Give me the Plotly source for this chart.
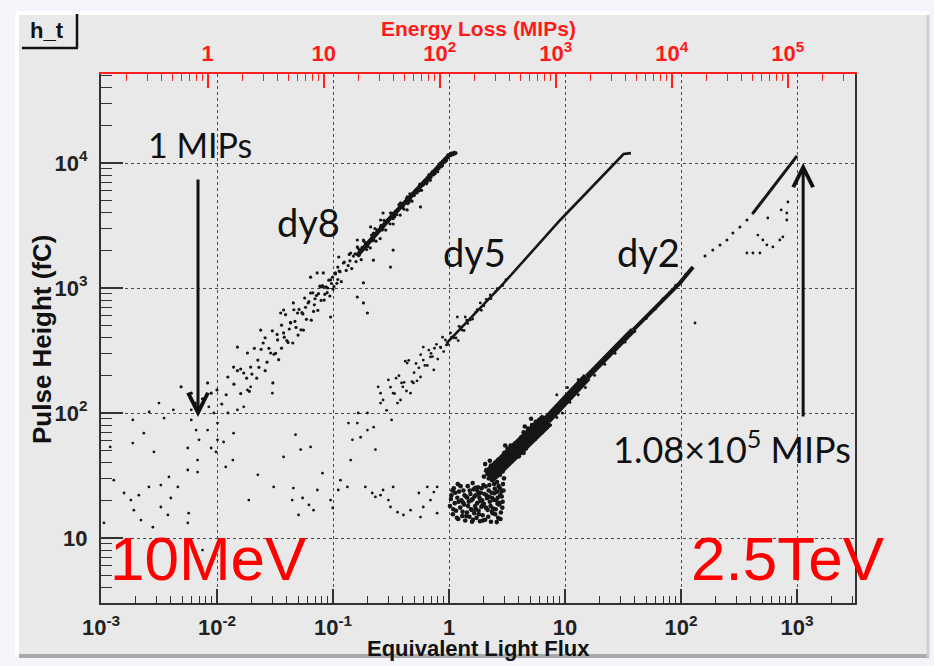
import math
import plotly.graph_objects as go

# ---------------- data ----------------
# Equivalent light flux (x) and pulse height in fC (y)
noise_flux = [0.00158, 0.00188, 0.00234, 0.00188, 0.00286, 0.00316, 0.00259, 0.00212, 0.00192, 0.00181,
              0.00221, 0.0028, 0.00328, 0.00377, 0.004, 0.0057, 0.0056, 0.00385, 0.0056, 0.0068,
              0.00328, 0.0046, 0.0068, 0.0056, 0.007, 0.0083, 0.0066, 0.006, 0.0098, 0.0101,
              0.0089, 0.0114, 0.0119, 0.0137, 0.0139, 0.0101, 0.0094, 0.0124, 0.015, 0.0085,
              0.006, 0.0042, 0.0035, 0.0026, 0.017, 0.0183, 0.0195, 0.03, 0.0188, 0.0308,
              0.0375, 0.0475, 0.0526, 0.0641, 0.0225, 0.0455, 0.0445, 0.0547, 0.062, 0.0505,
              0.0733, 0.068, 0.0812, 0.0953, 0.0995, 0.116, 0.111, 0.133, 0.136, 0.162,
              0.147, 0.173, 0.165, 0.198, 0.224, 0.232, 0.198, 0.142, 0.19, 0.218,
              0.232, 0.27, 0.257, 0.33, 0.3, 0.313, 0.36, 0.405, 0.466, 0.55,
              0.568, 0.6, 0.692, 0.79, 0.65, 0.79, 0.74, 0.0012, 0.00129, 0.00106,
              0.0075, 0.016]
noise_ph = [22.9, 88, 69, 57.5, 48.8, 120, 25.6, 22, 16.7, 20.1,
            13.9, 12.2, 17.7, 15.3, 20.9, 15.8, 13.2, 30.8, 35, 33.7,
            26.5, 25.6, 42, 52.5, 61, 73, 73, 88, 48.8, 61,
            52.5, 58.6, 37, 42, 69, 83, 100, 100, 106, 112,
            106, 106, 91, 102, 112, 153, 162, 144, 20.1, 25.6,
            44.5, 67, 51, 53.5, 32, 25.1, 20.1, 20.9, 18.4, 15.3,
            24.2, 16.7, 33, 20.1, 17.4, 29, 24.2, 25.6, 83, 83,
            61, 64, 100, 100, 77, 51, 73, 42, 25.6, 22.9,
            21.3, 24.2, 22, 25.6, 20.1, 17.7, 16.1, 15.3, 16.7, 22.9,
            14.7, 17.7, 20.1, 15.8, 25.6, 25.6, 23.3, 53.5, 29, 13.2,
            8, 6.6]

dy8_flux = [0.0049, 0.006, 0.0083, 0.0089, 0.01, 0.0124, 0.0139, 0.015, 0.0183, 0.0195,
            0.0225, 0.0238, 0.025, 0.029, 0.0333, 0.0303, 0.0375, 0.0432, 0.0354, 0.0495,
            0.0557, 0.061, 0.0641, 0.073, 0.0825, 0.0953, 0.105, 0.123, 0.11, 0.142,
            0.162, 0.183, 0.223, 0.211, 0.257, 0.313, 0.382, 0.436, 0.494, 0.6,
            0.692, 0.843, 0.98,
            0.223, 0.313, 0.33, 0.183, 0.162, 0.183, 0.198, 0.0953, 0.436, 0.568,
            0.0375, 0.0455, 0.0641, 0.0825, 0.078, 0.112, 0.162, 0.257, 0.27, 0.36,
            0.466, 0.568, 0.79, 0.65,
            0.14, 0.15, 0.17, 0.19, 0.2, 0.24, 0.28, 0.3, 0.34, 0.35,
            0.4, 0.42, 0.45, 0.5, 0.52, 0.55, 0.62, 0.7, 0.75, 0.82,
            0.88, 0.92, 1.05, 1.1, 1.15,
            0.02, 0.027, 0.032, 0.04, 0.042, 0.047, 0.05, 0.055, 0.058, 0.068,
            0.07, 0.075, 0.085, 0.09, 0.1, 0.018, 0.014, 0.012, 0.0065, 0.0075,
            0.011, 0.016, 0.022, 0.026, 0.036,
            0.105, 0.108, 0.115, 0.118, 0.125, 0.13, 0.135, 0.138, 0.145, 0.155,
            0.158, 0.165, 0.168, 0.175, 0.178, 0.185, 0.195, 0.205, 0.21, 0.215,
            0.225, 0.23, 0.235, 0.245, 0.255, 0.26, 0.265, 0.275, 0.285, 0.29,
            0.31, 0.32, 0.33, 0.345, 0.355, 0.37, 0.38, 0.39, 0.41, 0.43,
            0.44, 0.46, 0.48, 0.51, 0.53, 0.56, 0.58, 0.61, 0.64, 0.67,
            0.69, 0.72, 0.74, 0.77, 0.8, 0.84, 0.86, 0.9, 0.94, 0.97,
            0.015, 0.016, 0.017, 0.019, 0.021, 0.023, 0.024, 0.026, 0.028, 0.03,
            0.031, 0.033, 0.034, 0.036, 0.038, 0.039, 0.041, 0.043, 0.045, 0.046,
            0.048, 0.051, 0.053, 0.054, 0.057, 0.059, 0.062, 0.065, 0.067, 0.069,
            0.072, 0.074, 0.077, 0.079, 0.081, 0.084, 0.087, 0.089, 0.092, 0.094,
            0.097, 0.099, 0.102, 0.11, 0.113,
            0.2, 0.22, 0.24, 0.27, 0.3, 0.33, 0.36, 0.4, 0.42, 0.45,
            0.47, 0.5, 0.52, 0.55, 0.57, 0.6, 0.62, 0.65, 0.68, 0.7,
            0.73, 0.76, 0.78, 0.82, 0.85, 0.88, 0.92, 0.95, 0.99, 1.02]
dy8_ph = [162, 144, 174, 144, 153, 194, 233, 337, 302, 233,
          265, 461, 363, 302, 384, 174, 437, 525, 631, 631,
          461, 759, 912, 1320, 1020, 1160, 1320, 1585, 1470, 1905,
          2130, 2420, 2750, 3080, 3500, 3980, 4790, 5350, 5750, 6920,
          7730, 10000, 11600,
          1670, 1470, 2010, 1100, 847, 759, 631, 586, 4210, 4450,
          667, 759, 1220, 1320, 1020, 1770, 2420, 3080, 3980, 4210,
          5060, 6080, 8790, 7310,
          1650, 1800, 2000, 2300, 2150, 2900, 3300, 3500, 3700, 4100,
          4500, 4900, 4800, 5500, 6100, 6300, 7100, 8200, 8400, 9300,
          10300, 10800, 12000, 12100, 12050,
          205, 255, 300, 380, 470, 540, 420, 620, 700, 650,
          820, 900, 890, 1000, 980, 190, 170, 140, 120, 130,
          118, 225, 190, 400, 330,
          1294, 1089, 1352, 1123, 1610, 1383, 1512, 1855, 1429, 1875,
          1628, 2070, 1825, 1686, 2113, 2362, 2031, 2342, 2093, 2649,
          2419, 2988, 2369, 2854, 2485, 3174, 2909, 3480, 2905, 3345,
          3264, 3978, 3252, 4096, 3857, 4641, 3830, 4586, 4271, 5201,
          4731, 5667, 4946, 5940, 5758, 6774, 6041, 7174, 6810, 8029,
          7264, 8548, 8039, 8969, 8512, 9972, 9343, 10382, 10317, 11081,
          218, 143, 209, 149, 329, 232, 323, 218, 329, 454,
          295, 425, 267, 504, 404, 612, 367, 530, 363, 670,
          484, 674, 463, 635, 830, 562, 778, 553, 915, 734,
          871, 663, 1035, 796, 1043, 800, 1023, 917, 1154, 863,
          1086, 1220, 1028, 1170, 1367,
          2307, 2390, 2742, 2964, 3494, 3585, 4153, 4390, 4845, 4889,
          5369, 5488, 5999, 5975, 6512, 6653, 7152, 7062, 7768, 7683,
          8421, 8257, 8911, 9000, 9806, 9560, 10510, 10534, 11310, 11800]
dy8_core_flux = [0.16, 0.3, 0.6, 1.0, 1.15]
dy8_core_ph = [1800, 3500, 6900, 11500, 12100]

dy5_flux = [1.18, 0.6, 0.436, 0.313, 0.257, 0.494, 0.568, 0.692, 0.74, 0.843,
            1.03, 1.25, 1.53, 0.466, 0.4, 0.6, 0.245, 0.27, 0.33, 0.39,
            0.43, 0.382, 0.32, 0.257, 1.86, 2.27, 0.93, 1.38,
            0.5, 0.55, 0.65, 0.7, 0.8, 0.9, 1.1, 1.3, 1.45, 1.7,
            2.0, 2.5, 0.36, 0.29, 0.35, 0.75, 1.2, 0.95,
            0.3, 0.34, 0.37, 0.41, 0.45, 0.48, 0.52, 0.57, 0.62, 0.67,
            0.72, 0.78, 0.85, 0.88, 0.98, 1.05, 1.15, 1.22, 1.35, 1.42,
            1.6, 1.75, 1.9, 2.1, 2.3, 2.6, 2.9, 3.1, 0.42, 0.53]
dy5_ph = [586, 337, 251, 161, 144, 174, 194, 281, 221, 337,
          437, 488, 555, 144, 162, 265, 162, 127, 144, 174,
          150, 127, 88, 120, 759, 879, 384, 586,
          210, 230, 240, 300, 270, 310, 400, 460, 520, 640,
          720, 930, 120, 105, 190, 330, 380, 350,
          184, 143, 199, 176, 264, 178, 249, 293, 240, 319,
          283, 354, 333, 404, 354, 405, 398, 494, 457, 554,
          565, 670, 664, 811, 821, 986, 1046, 1164, 260, 181]
dy5_core_flux = [0.95, 2.77, 9.1, 32, 37]
dy5_core_ph = [360, 1020, 3500, 11800, 12000]

dy2_base_flux = [1.02, 1.05, 1.08, 1.1, 1.12, 1.15, 1.18, 1.2, 1.22, 1.25, 1.28, 1.3, 1.33, 1.35, 1.38,
                 1.4, 1.43, 1.45, 1.48, 1.5, 1.53, 1.55, 1.58, 1.6, 1.63, 1.65, 1.68, 1.7, 1.73, 1.75,
                 1.78, 1.8, 1.83, 1.85, 1.88, 1.9, 1.93, 1.95, 1.98, 2.0, 2.05, 2.1, 2.15, 2.2, 2.25,
                 2.3, 2.35, 2.4, 2.45, 2.5, 2.55, 2.6, 2.65, 2.7, 2.75, 2.8, 2.85,
                 1.04, 1.09, 1.13, 1.17, 1.21, 1.26, 1.31, 1.36, 1.41, 1.46, 1.51, 1.56, 1.61, 1.66,
                 1.71, 1.76, 1.81, 1.86, 1.91, 1.96, 2.02, 2.08, 2.13, 2.18, 2.23, 2.28, 2.33, 2.38,
                 2.43, 2.48, 2.53, 2.58, 2.63, 2.68, 2.73, 2.78, 2.83, 2.88,
                 1.07, 1.19, 1.32, 1.44, 1.57, 1.69, 1.82, 1.94, 2.07, 2.21, 2.34, 2.47, 2.62, 2.76,
                 2.9, 2.92, 2.95, 2.98, 2.6, 2.35, 1.6]
dy2_base_ph = [18, 22, 15.5, 25, 19, 16.5, 21, 14.2, 23.5, 17.5, 20, 15, 24, 18.5, 13.8,
               21.5, 16, 26, 19.5, 14.8, 22.5, 17, 13.5, 20.5, 24.5, 15.8, 18, 22, 14.5, 19,
               25.5, 16.5, 21, 13.6, 23, 17.8, 20, 15.2, 26.5, 18.8, 14, 22, 16.8, 24, 19.5,
               13.5, 21, 17.2, 27, 15.5, 20, 23.5, 14.5, 18.5, 25, 16, 21.5,
               20.5, 17, 23, 14.5, 19.5, 26, 16.2, 22, 15, 18, 24, 20, 14, 21.5,
               17, 23.8, 15.5, 19.8, 25, 13.8, 22.5, 17.5, 20.8, 14.8, 26.5, 18, 23, 15.8,
               20.2, 24.8, 17, 13.4, 21, 26, 19, 14.2, 23.5, 17.5,
               24, 27, 19.2, 21, 16.8, 25.2, 22.6, 18.3, 25.8, 21.4, 16.3, 22.8, 18.8, 22,
               19.5, 27, 24, 30, 28, 29, 27.5]

dy2_block_flux = [2.0, 2.1, 2.2, 2.3, 2.4, 2.5, 2.6, 2.7, 2.8, 2.9, 2.05, 2.15, 2.25, 2.35, 2.45,
                  2.55, 2.65, 2.75, 2.85, 2.95,
                  2.9, 3.0, 3.1, 3.2, 3.3, 3.4, 3.5, 3.6, 3.7, 3.8, 3.9, 4.0, 4.1, 4.2, 4.3, 4.4,
                  4.5, 4.6, 3.05, 3.25, 3.45, 3.65, 3.85, 4.05,
                  4.2, 4.4, 4.6, 4.8, 5.0, 5.2, 5.4, 5.6, 5.8, 6.0, 6.2, 6.4, 6.6, 6.8, 7.0,
                  4.5, 5.1, 5.5, 6.3, 6.9]
dy2_block_ph = [31, 35, 30, 38, 33, 40, 31.5, 36, 41, 34, 39, 32.5, 41.5, 35.5, 30.5,
                37, 42, 32, 38.5, 36,
                44, 48, 42, 52, 46, 55, 43, 50, 57, 47, 53, 45, 58, 50, 55, 48,
                56, 52, 55, 40.5, 49, 44, 56, 51,
                64, 70, 62, 75, 68, 80, 66, 85, 72, 88, 78, 92, 82, 90, 86,
                78, 90, 62, 70, 76]

dy2_fuzz_flux = [7.5, 8, 8.5, 9, 9.5, 10, 11, 12, 13, 14, 15, 16, 18, 20, 22, 24, 27, 30, 33, 36,
                 40, 45, 50, 55, 60, 70, 80, 90, 100, 110, 120, 8.5, 10.5, 13]
dy2_fuzz_ph = [80, 98, 92, 110, 100, 120, 122, 145, 140, 168, 160, 192, 200, 240, 245, 290, 300, 360,
               370, 430, 450, 530, 570, 650, 680, 820, 920, 1050, 1130, 1290, 1380, 140, 160, 185]

dy2_thick1_flux = [2.2, 4.1, 7.0]
dy2_thick1_ph = [31, 55, 88]
dy2_thick2_flux = [7.0, 15.5]
dy2_thick2_ph = [88, 194]
dy2_mid1_flux = [15.5, 38.6]
dy2_mid1_ph = [194, 461]
dy2_mid2_flux = [38.6, 98, 127]
dy2_mid2_ph = [461, 1100, 1470]
dy2_gap_flux = [161, 188, 217, 249, 280, 322, 370, 417]
dy2_gap_ph = [1800, 2010, 2210, 2420, 2750, 3080, 3500, 3980]
dy2_top_flux = [420, 1000]
dy2_top_ph = [4000, 11400]

high_noise_flux = [370, 417, 479, 460, 508, 550, 620, 711, 755, 560, 730, 817, 835, 817, 132]
high_noise_ph = [1905, 1905, 1905, 2650, 2420, 2210, 2130, 2420, 2560, 3630, 4210, 3980, 4875, 3500, 525]

x_tick_vals = [1e-3, 1e-2, 1e-1, 1, 10, 100, 1000]
x_tick_text = ["10<sup>-3</sup>", "10<sup>-2</sup>", "10<sup>-1</sup>", "1", "10", "10<sup>2</sup>", "10<sup>3</sup>"]
y_tick_vals = [10, 100, 1000, 10000]
y_tick_text = ["10", "10<sup>2</sup>", "10<sup>3</sup>", "10<sup>4</sup>"]
mip_tick_vals = [1, 10, 100, 1000, 1e4, 1e5]
mip_tick_text = ["1", "10", "10<sup>2</sup>", "10<sup>3</sup>", "10<sup>4</sup>", "10<sup>5</sup>"]

# arrows (data values)
mip1_flux, mip1_head, mip1_tail = 0.00686, 93, 7600
mipmax_flux, mipmax_head, mipmax_tail = 1130, 10000, 91

# ---------------- figure ----------------
W, H = 934, 666
L, R, T, B = 101, 855, 74, 603

def PX(px):
    return (px - L) / (R - L)

def PY(py):
    return (B - py) / (B - T)

def minors(lo, hi):
    out = []
    for e in range(lo, hi + 1):
        for m in range(2, 10):
            out.append(m * 10 ** e)
    return out

DOT = "#161616"
fig = go.Figure()

def dots(x, y, size=3):
    fig.add_trace(go.Scatter(x=x, y=y, mode="markers", showlegend=False, hoverinfo="skip",
                             marker=dict(size=size, color=DOT, line=dict(width=0))))

def core(x, y, w):
    fig.add_trace(go.Scatter(x=x, y=y, mode="lines", showlegend=False, hoverinfo="skip",
                             line=dict(color=DOT, width=w)))

core(dy8_core_flux, dy8_core_ph, 4.5)
core(dy5_core_flux, dy5_core_ph, 2.6)
core(dy2_thick1_flux, dy2_thick1_ph, 15)
core(dy2_thick2_flux, dy2_thick2_ph, 9)
core(dy2_mid1_flux, dy2_mid1_ph, 6)
core(dy2_mid2_flux, dy2_mid2_ph, 4)
core(dy2_top_flux, dy2_top_ph, 3)
dots(noise_flux, noise_ph, 2.8)
dots(dy8_flux, dy8_ph, 3.2)
dots(dy5_flux, dy5_ph, 2.8)
dots(dy2_base_flux, dy2_base_ph, 4.6)
dots(dy2_block_flux, dy2_block_ph, 4.6)
dots(dy2_fuzz_flux, dy2_fuzz_ph, 3)
dots(dy2_gap_flux, dy2_gap_ph, 3)
dots(high_noise_flux, high_noise_ph, 2.8)
# attach the top (MIPs) scale
fig.add_trace(go.Scatter(x=mip_tick_vals, y=[None] * len(mip_tick_vals), xaxis="x2", yaxis="y",
                         mode="markers", showlegend=False, hoverinfo="skip"))

tick_font = dict(family="Liberation Sans", size=22, color="#222", weight="bold")
grid = dict(showgrid=True, gridcolor="#4a4a4a", gridwidth=1, griddash="dot")

fig.update_layout(
    width=W, height=H,
    margin=dict(l=L, r=W - R, t=T, b=H - B, pad=0),
    paper_bgcolor="#f3f5fa",
    plot_bgcolor="#e9e9e9",
    xaxis=dict(type="log", range=[-3, 3.5], tickvals=x_tick_vals, ticktext=x_tick_text,
               ticks="inside", ticklen=14, tickwidth=1.5, tickcolor="#333",
               minor=dict(tickvals=minors(-3, 3), ticks="inside", ticklen=7, tickwidth=1.2,
                          tickcolor="#333", showgrid=False),
               showline=True, linecolor="#333", linewidth=2, mirror=False,
               tickfont=tick_font, ticklabelstandoff=4, zeroline=False, **grid),
    yaxis=dict(type="log", range=[0.48, 4.712], tickvals=y_tick_vals, ticktext=y_tick_text,
               ticks="inside", ticklen=22, tickwidth=1.5, tickcolor="#333",
               minor=dict(tickvals=minors(0, 4), ticks="inside", ticklen=11, tickwidth=1.2,
                          tickcolor="#333", showgrid=False),
               showline=True, linecolor="#333", linewidth=2, mirror=True,
               tickfont=tick_font, ticklabelstandoff=7, zeroline=False, **grid),
    xaxis2=dict(type="log", overlaying="x", side="top", anchor="y",
                range=[-3 + 2.08, 3.5 + 2.08], tickvals=mip_tick_vals, ticktext=mip_tick_text,
                ticks="inside", ticklen=14, tickwidth=1.5, tickcolor="#ff2020",
                minor=dict(tickvals=minors(-1, 5), ticks="inside", ticklen=7, tickwidth=1.2,
                           tickcolor="#ff2020", showgrid=False),
                showline=True, linecolor="#ff2020", linewidth=2, showgrid=False, zeroline=False,
                tickfont=dict(family="Liberation Sans", size=22, color="#ff1a1a", weight="bold"),
                ticklabelstandoff=2),
)

# panel (ROOT canvas) with bevel
shapes = [
    dict(type="rect", xref="paper", yref="paper", x0=PX(17), x1=PX(929), y0=PY(657), y1=PY(13),
         fillcolor="#e9e9e9", line=dict(width=0), layer="below"),
    dict(type="line", xref="paper", yref="paper", x0=PX(17), x1=PX(929), y0=PY(13), y1=PY(13),
         line=dict(color="#ffffff", width=4)),
    dict(type="line", xref="paper", yref="paper", x0=PX(17), x1=PX(17), y0=PY(13), y1=PY(657),
         line=dict(color="#ffffff", width=4)),
    dict(type="line", xref="paper", yref="paper", x0=PX(19), x1=PX(929), y0=PY(656), y1=PY(656),
         line=dict(color="#a9a9a9", width=4)),
    dict(type="line", xref="paper", yref="paper", x0=PX(928), x1=PX(928), y0=PY(15), y1=PY(657),
         line=dict(color="#cfcfcf", width=3)),
    # h_t title box
    dict(type="line", xref="paper", yref="paper", x0=PX(77), x1=PX(77), y0=PY(14), y1=PY(48),
         line=dict(color="#111", width=2.5)),
    dict(type="line", xref="paper", yref="paper", x0=PX(22), x1=PX(78), y0=PY(48), y1=PY(48),
         line=dict(color="#111", width=2.5)),
]
fig.update_layout(shapes=shapes)

ann = []
def text(s, px, py, size, color="#111", family="Lato", weight="normal", angle=0):
    ann.append(dict(text=s, xref="paper", yref="paper", x=PX(px), y=PY(py), showarrow=False,
                    xanchor="center", yanchor="middle", textangle=angle,
                    font=dict(family=family, size=size, color=color, weight=weight)))

text("h_t", 47, 30, 22, family="Liberation Sans", weight="bold")
text("Energy Loss (MIPs)", 478, 28, 21, color="#ff1a1a", family="Liberation Sans", weight="bold")
text("Equivalent Light Flux", 478, 648, 22, family="Liberation Sans", weight="bold")
text("Pulse Height (fC)", 42, 340, 26, family="Liberation Sans", weight="bold", angle=-90)
text("1 MIPs", 200, 145, 34)
text("dy8", 308, 222, 38)
text("dy5", 474, 252, 38)
text("dy2", 648, 252, 38)
text("1.08\u00d710<sup>5</sup> MIPs", 732, 447, 36)
text("10MeV", 208, 558, 62, color="#ff0000", family="Liberation Sans")
text("2.5TeV", 788, 558, 62, color="#ff0000", family="Liberation Sans")

for fx, head, tail in [(mip1_flux, mip1_head, mip1_tail), (mipmax_flux, mipmax_head, mipmax_tail)]:
    ann.append(dict(xref="x", yref="y", axref="x", ayref="y",
                    x=math.log10(fx), y=math.log10(head), ax=math.log10(fx), ay=math.log10(tail),
                    text="", showarrow=True, arrowhead=5, arrowsize=1.3, arrowwidth=3,
                    arrowcolor="#111"))
fig.update_layout(annotations=ann)

fig.write_html("out.html")
